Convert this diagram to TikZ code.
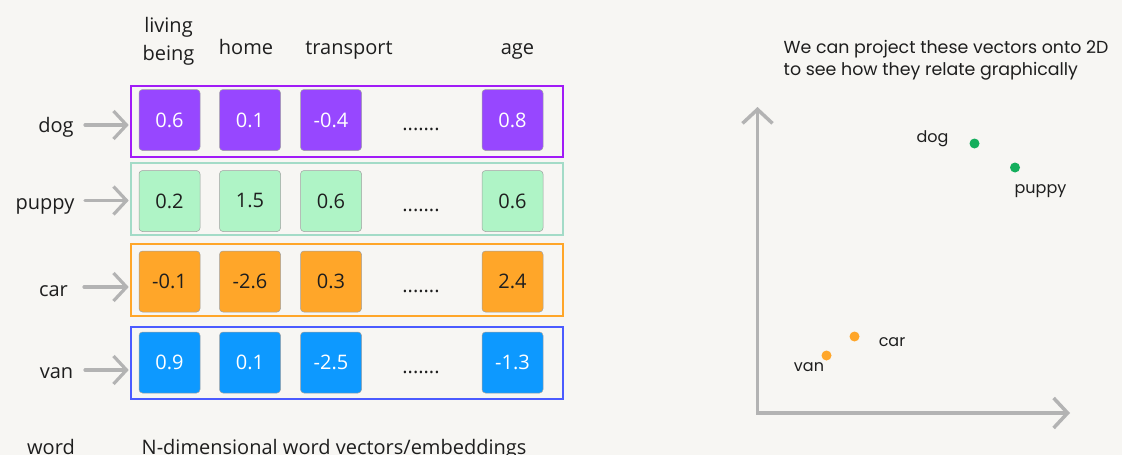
\documentclass[tikz,border=0pt]{standalone}
\usepackage{fontspec}
\setmainfont{Open Sans}
\newfontfamily\rfont{Poppins}
\usetikzlibrary{arrows.meta}
\definecolor{bg}{HTML}{F7F6F3}
\definecolor{ink}{HTML}{1E1E1E}
\definecolor{arrowgray}{HTML}{B3B3B3}
\definecolor{cellline}{HTML}{A0A0A0}
\definecolor{purplefill}{HTML}{9747FF}
\definecolor{purpleline}{HTML}{A11BF7}
\definecolor{mintfill}{HTML}{AFF4C6}
\definecolor{mintline}{HTML}{A3DBC7}
\definecolor{orangefill}{HTML}{FFA629}
\definecolor{orangeline}{HTML}{FFA629}
\definecolor{bluefill}{HTML}{0D99FF}
\definecolor{blueline}{HTML}{4B5BFF}
\definecolor{greendot}{HTML}{14AE5C}
\begin{document}
\begin{tikzpicture}[x=1pt,y=-1pt,
  txt/.style={font=\fontsize{20}{23}\selectfont, text=ink, inner sep=0pt, anchor=base},
  rtxt/.style={font=\rfont\fontsize{16}{22}\selectfont, text=ink, inner sep=0pt, anchor=base},
  notetxt/.style={font=\rfont\fontsize{17.4}{22}\selectfont, text=ink, inner sep=0pt, anchor=base west},
  rowbox/.style={draw, line width=1.6pt, minimum width=432pt, inner sep=0pt},
  cellbox/.style={draw=cellline, line width=0.5pt, rounded corners=3.5pt, minimum width=61pt, minimum height=61pt, inner sep=0pt, font=\fontsize{20}{23}\selectfont},
  arr/.style={draw=arrowgray, line width=3.2pt, -{Straight Barb[length=13pt,width=28pt]}, line cap=round, line join=round, shorten >=1.5pt},
  axis/.style={draw=arrowgray, line width=3.5pt, {Straight Barb[length=14pt,width=30pt]}-{Straight Barb[length=14pt,width=30pt]}, line cap=round},
  dot/.style={circle, inner sep=0pt, minimum size=10pt}
]
\clip (0,0) rectangle (1122,455);
\fill[bg] (0,0) rectangle (1122,455);

% headers
\node[txt] (hlive) at (168.5,32) {living};
\node[txt] (hbeing) at (168.5,60.5) {being};
\node[txt] (hhome) at (246,54) {home};
\node[txt] (htrans) at (349,54) {transport};
\node[txt] (hage) at (517.5,54) {age};

% rows
\node[rowbox, draw=purpleline, minimum height=71pt] (boxA) at (347,121.5) {};
\node[rowbox, draw=mintline, minimum height=72pt] (boxB) at (347,199) {};
\node[rowbox, draw=orangeline, minimum height=72pt] (boxC) at (347,280) {};
\node[rowbox, draw=blueline, minimum height=72pt] (boxD) at (347,363) {};

% dog cells
\node[cellbox, fill=purplefill, text=white] (a1) at (169.5,120) {0.6};
\node[cellbox, fill=purplefill, text=white] (a2) at (250,120) {0.1};
\node[cellbox, fill=purplefill, text=white] (a3) at (331,120) {-0.4};
\node[cellbox, fill=purplefill, text=white] (a4) at (512.5,120) {0.8};
\node[txt] (adots) at (421,130) {.......};
% puppy cells
\node[cellbox, fill=mintfill, text=ink] (b1) at (169.5,201) {0.2};
\node[cellbox, fill=mintfill, text=ink] (b2) at (250,201) {1.5};
\node[cellbox, fill=mintfill, text=ink] (b3) at (331,201) {0.6};
\node[cellbox, fill=mintfill, text=ink] (b4) at (512.5,201) {0.6};
\node[txt] (bdots) at (421,211) {.......};
% car cells
\node[cellbox, fill=orangefill, text=ink] (c1) at (169.5,281.5) {-0.1};
\node[cellbox, fill=orangefill, text=ink] (c2) at (250,281.5) {-2.6};
\node[cellbox, fill=orangefill, text=ink] (c3) at (331,281.5) {0.3};
\node[cellbox, fill=orangefill, text=ink] (c4) at (512.5,281.5) {2.4};
\node[txt] (cdots) at (421,292) {.......};
% van cells
\node[cellbox, fill=bluefill, text=white] (d1) at (169.5,362.5) {0.9};
\node[cellbox, fill=bluefill, text=white] (d2) at (250,362.5) {0.1};
\node[cellbox, fill=bluefill, text=white] (d3) at (331,362.5) {-2.5};
\node[cellbox, fill=bluefill, text=white] (d4) at (512.5,362.5) {-1.3};
\node[txt] (ddots) at (421,373) {.......};

% word labels
\node[txt] (wdog) at (56,132) {dog};
\node[txt] (wpuppy) at (45,209) {puppy};
\node[txt] (wcar) at (53.5,296.5) {car};
\node[txt] (wvan) at (56.5,378) {van};

\coordinate (sA) at (85,125);
\coordinate (sB) at (85,200.5);
\coordinate (sC) at (84,287);
\coordinate (sD) at (85,370);
\draw[arr] (sA) -- (sA -| boxA.west);
\draw[arr] (sB) -- (sB -| boxB.west);
\draw[arr] (sC) -- (sC -| boxC.west);
\draw[arr] (sD) -- (sD -| boxD.west);

% bottom labels
\node[txt] (lword) at (51,454) {word};
\node[txt, anchor=base west] (lvec) at (141.5,454) {N-dimensional word vectors/embeddings};

% right side
\node[notetxt] (note1) at (783.5,53.3) {We can project these vectors onto 2D};
\node[notetxt] (note2) at (783.5,75.3) {to see how they relate graphically};

\coordinate (ytip) at (757.5,107);
\coordinate (xtip) at (1070,413);
\draw[axis] (ytip) |- (xtip);

\node[dot, fill=greendot] (pdog) at (974.5,143.5) {};
\node[dot, fill=greendot] (ppuppy) at (1015,167.5) {};
\node[dot, fill=orangefill] (pcar) at (854.5,336.5) {};
\node[dot, fill=orangefill] (pvan) at (826.5,355.5) {};
\node[rtxt] (tdog) at (932.5,142.5) {dog};
\node[rtxt] (tpuppy) at (1040.5,193) {puppy};
\node[rtxt] (tcar) at (892,346.5) {car};
\node[rtxt] (tvan) at (809,371.5) {van};
\end{tikzpicture}
\end{document}
